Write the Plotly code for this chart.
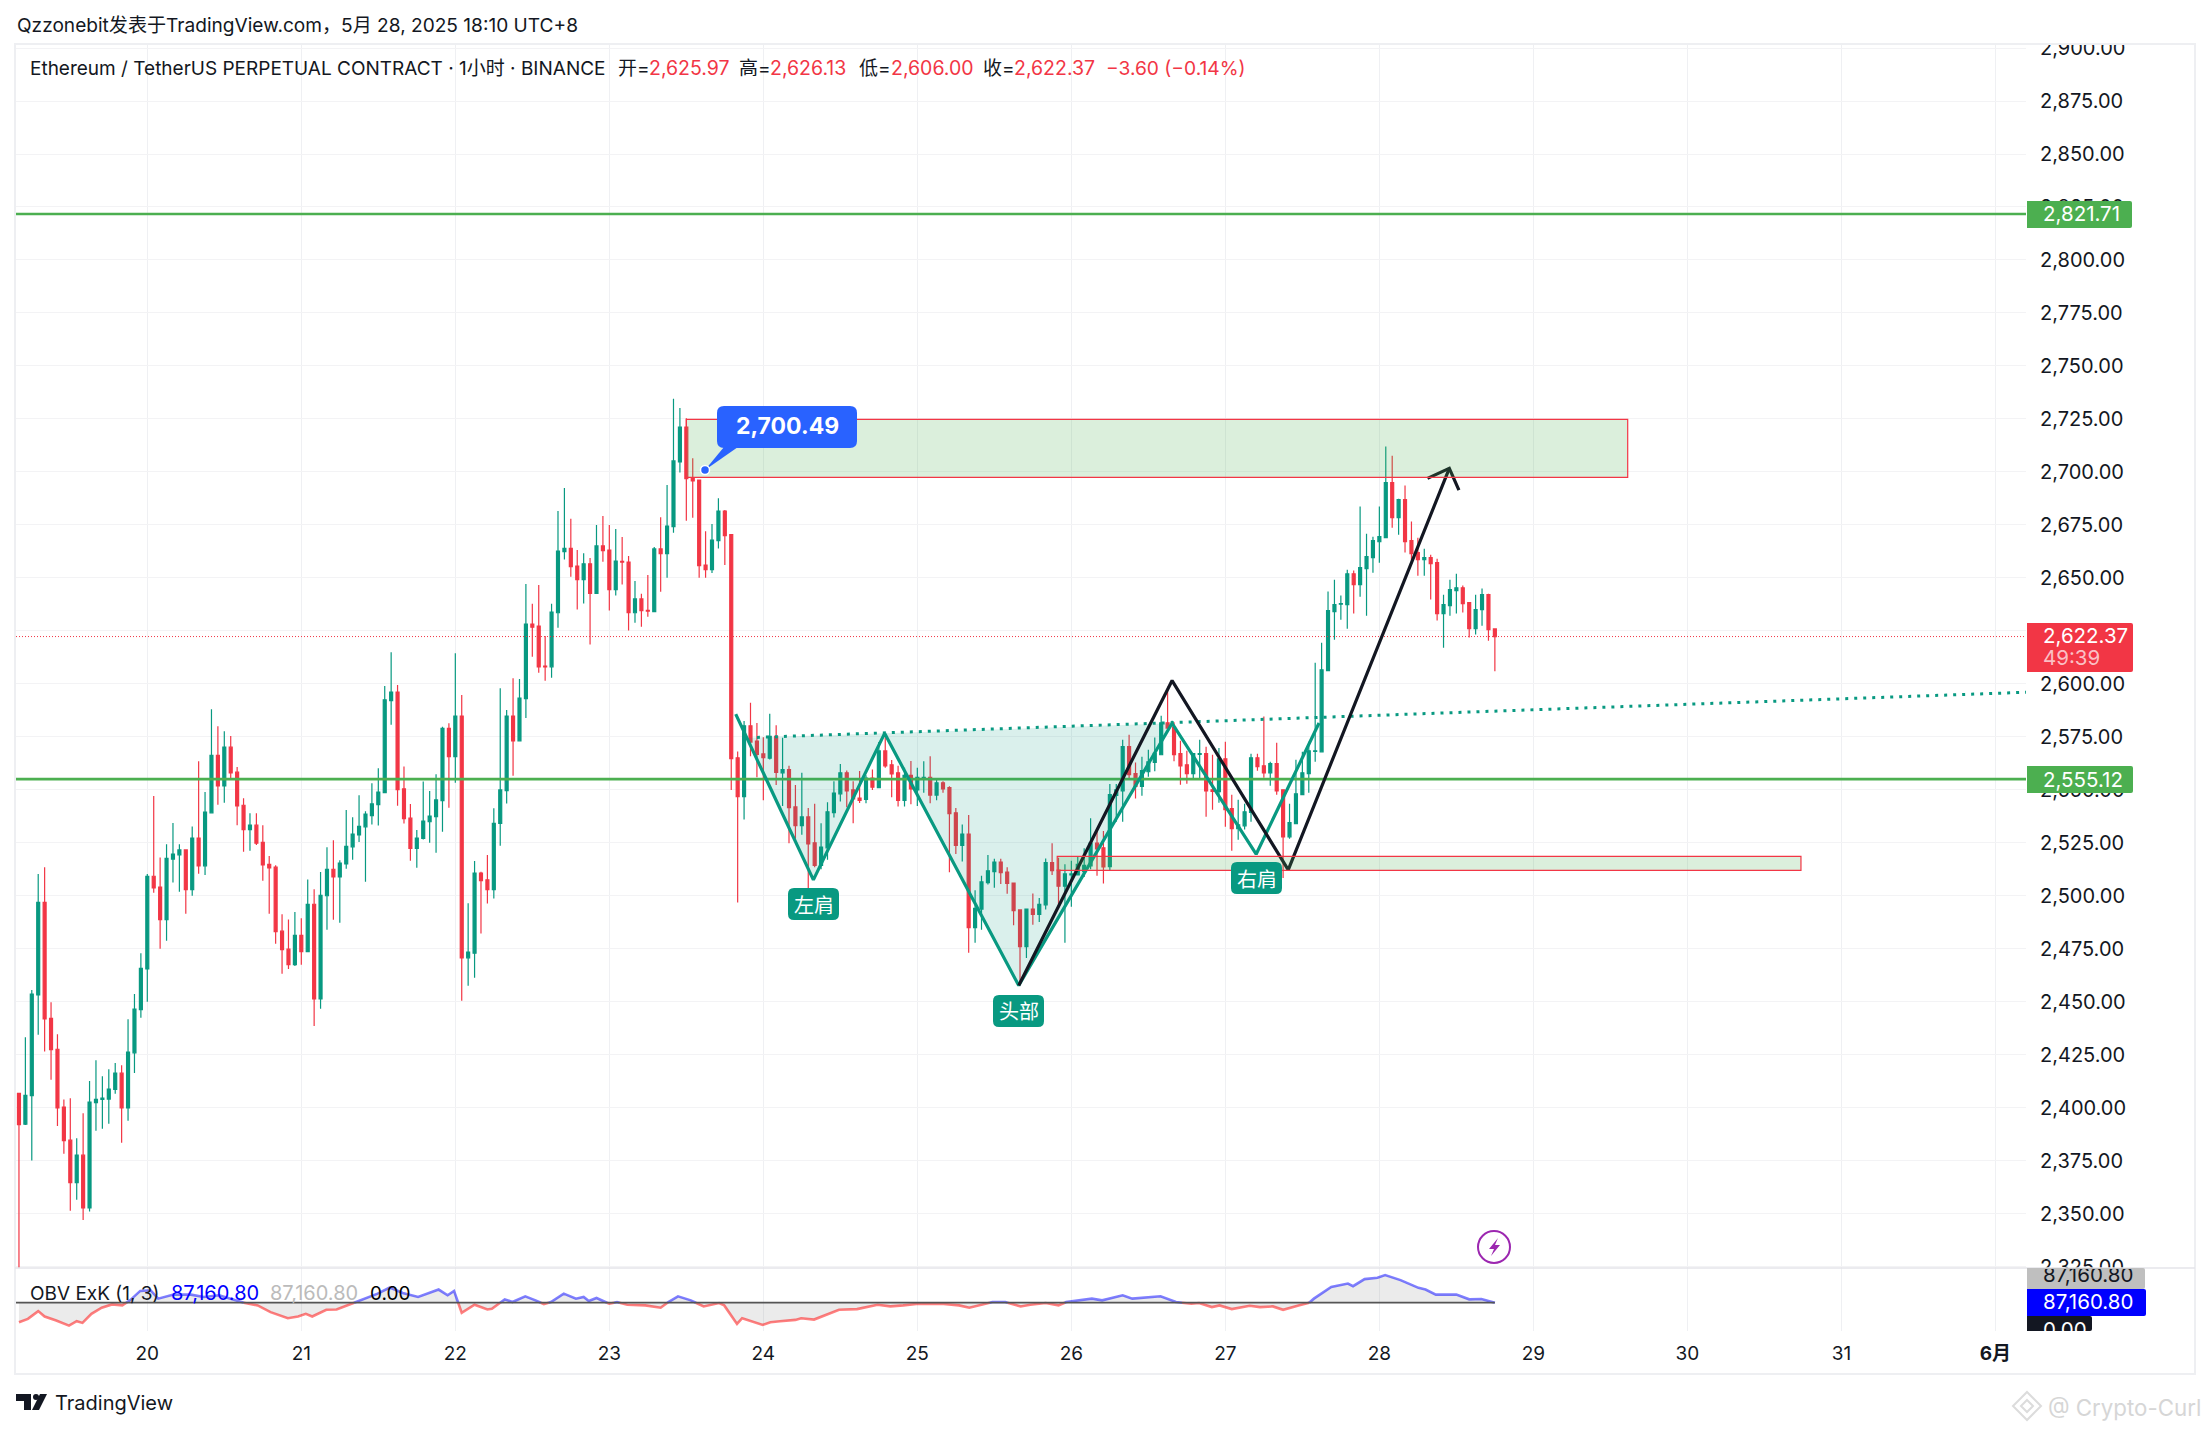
import plotly.graph_objects as go

bar_open = [
    2406.9, 2392.3, 2405.8, 2453.3, 2497.0, 2442.3, 2427.7, 2400.4, 2384.8, 2364.8,
    2377.7, 2352.8, 2402.5, 2404.0, 2404.2, 2408.7, 2416.4, 2400.0, 2426.0, 2446.4,
    2465.6, 2509.3, 2504.2, 2488.8, 2517.4, 2519.4, 2521.7, 2503.0, 2527.3, 2514.2,
    2539.2, 2566.3, 2551.9, 2570.2, 2558.4, 2542.8, 2531.3, 2533.4, 2525.3, 2514.9,
    2513.6, 2483.4, 2474.9, 2467.6, 2481.4, 2473.7, 2496.1, 2451.4, 2500.1, 2512.6,
    2509.0, 2515.1, 2523.2, 2528.8, 2532.6, 2537.9, 2543.1, 2548.7, 2592.1, 2596.2,
    2550.5, 2536.7, 2522.4, 2527.1, 2535.0, 2537.4, 2545.0, 2579.1, 2565.7, 2584.9,
    2470.8, 2473.0, 2510.8, 2507.6, 2503.0, 2534.2, 2549.7, 2584.9, 2573.2, 2593.1,
    2628.3, 2627.3, 2608.4, 2608.1, 2633.6, 2662.4, 2664.0, 2655.6, 2649.2, 2656.7,
    2642.7, 2665.1, 2663.2, 2644.5, 2657.8, 2657.5, 2633.6, 2640.1, 2634.7, 2634.1,
    2663.7, 2661.5, 2674.2, 2704.7, 2721.2, 2697.3, 2696.2, 2656.1, 2653.9, 2667.6,
    2681.6, 2670.5, 2565.2, 2546.9, 2580.3, 2573.1, 2567.0, 2565.0, 2575.3, 2558.1,
    2559.6, 2542.0, 2533.2, 2537.3, 2525.1, 2514.4, 2522.7, 2539.3, 2548.2, 2558.1,
    2550.0, 2546.2, 2545.5, 2555.6, 2551.1, 2568.4, 2561.9, 2558.1, 2545.1, 2556.9,
    2550.0, 2555.6, 2556.0, 2547.6, 2553.4, 2551.1, 2539.2, 2523.8, 2529.2, 2485.1,
    2493.8, 2506.3, 2511.5, 2516.0, 2511.3, 2506.1, 2493.4, 2476.1, 2493.8, 2491.3,
    2495.8, 2515.7, 2512.2, 2504.6, 2509.9, 2509.9, 2511.5, 2514.2, 2524.9, 2522.7,
    2513.8, 2547.4, 2549.6, 2570.4, 2557.7, 2551.7, 2558.6, 2563.0, 2566.6, 2581.7,
    2579.7, 2567.1, 2561.9, 2557.7, 2566.8, 2567.1, 2550.1, 2549.2, 2564.7, 2541.2,
    2531.7, 2533.1, 2539.4, 2565.2, 2561.4, 2558.1, 2562.4, 2550.1, 2527.9, 2534.1,
    2547.8, 2557.7, 2568.2, 2568.0, 2606.3, 2634.1, 2637.6, 2637.4, 2652.0, 2646.9,
    2654.4, 2659.6, 2667.1, 2669.0, 2695.0, 2678.5, 2687.0, 2667.6, 2662.0, 2658.7,
    2659.6, 2657.2, 2633.2, 2637.0, 2644.0, 2645.4, 2638.4, 2626.1, 2635.1, 2642.1, 2625.97,
]
bar_high = [
    2406.9, 2433.3, 2455.6, 2510.3, 2513.6, 2449.9, 2434.8, 2404.0, 2404.6, 2385.7,
    2397.5, 2412.7, 2422.5, 2415.0, 2418.3, 2421.2, 2420.2, 2441.8, 2453.7, 2473.0,
    2510.3, 2547.1, 2518.2, 2524.4, 2534.4, 2524.4, 2521.7, 2532.8, 2563.6, 2549.0,
    2588.1, 2580.0, 2577.7, 2575.4, 2560.8, 2546.1, 2539.0, 2539.0, 2533.4, 2518.8,
    2514.5, 2491.4, 2488.9, 2492.4, 2489.5, 2507.8, 2503.2, 2511.3, 2523.0, 2526.3,
    2516.9, 2540.5, 2537.1, 2547.5, 2540.0, 2553.2, 2560.3, 2599.0, 2615.0, 2599.5,
    2561.1, 2543.4, 2531.1, 2554.0, 2549.5, 2557.4, 2579.8, 2581.5, 2614.5, 2594.8,
    2496.6, 2516.5, 2511.4, 2519.3, 2541.4, 2598.0, 2587.7, 2602.7, 2602.4, 2647.2,
    2637.8, 2646.7, 2622.6, 2637.8, 2681.6, 2692.4, 2677.9, 2663.2, 2661.7, 2659.4,
    2675.0, 2679.2, 2675.0, 2673.1, 2669.3, 2660.4, 2648.6, 2642.5, 2651.4, 2664.6,
    2678.7, 2693.9, 2734.5, 2730.2, 2725.3, 2706.5, 2696.2, 2672.1, 2675.5, 2687.6,
    2682.1, 2670.8, 2568.1, 2582.5, 2591.2, 2581.6, 2574.9, 2585.9, 2580.5, 2574.6,
    2561.4, 2552.3, 2558.1, 2541.5, 2543.5, 2534.3, 2544.2, 2554.1, 2562.3, 2559.2,
    2554.1, 2559.0, 2556.9, 2559.6, 2572.6, 2574.9, 2564.1, 2561.4, 2560.5, 2563.7,
    2560.5, 2563.5, 2565.9, 2555.6, 2554.1, 2551.8, 2541.5, 2533.7, 2538.2, 2502.7,
    2509.5, 2519.3, 2517.5, 2517.5, 2513.5, 2506.1, 2493.4, 2493.8, 2501.2, 2499.0,
    2517.7, 2524.9, 2518.0, 2514.9, 2516.6, 2518.9, 2522.5, 2536.6, 2530.7, 2530.7,
    2552.8, 2552.8, 2573.7, 2576.1, 2563.0, 2565.7, 2569.0, 2574.8, 2585.0, 2598.7,
    2581.9, 2573.2, 2568.5, 2567.1, 2573.7, 2570.4, 2566.6, 2569.8, 2572.8, 2547.8,
    2545.4, 2543.5, 2567.1, 2567.1, 2584.6, 2563.3, 2572.3, 2550.1, 2543.5, 2564.3,
    2568.0, 2572.8, 2610.0, 2619.5, 2643.6, 2649.2, 2641.7, 2653.9, 2653.5, 2683.7,
    2670.9, 2669.5, 2683.7, 2712.0, 2707.7, 2687.4, 2693.6, 2676.6, 2669.0, 2663.8,
    2661.0, 2659.1, 2642.1, 2649.2, 2652.0, 2646.4, 2638.4, 2642.1, 2645.0, 2642.6, 2626.13,
]
bar_low = [
    2320.0, 2391.9, 2375.2, 2434.5, 2426.6, 2413.3, 2391.5, 2378.4, 2351.5, 2356.7,
    2347.2, 2351.1, 2389.2, 2390.2, 2392.5, 2406.7, 2383.6, 2394.0, 2416.5, 2442.5,
    2450.1, 2501.5, 2475.1, 2478.9, 2506.3, 2502.0, 2491.6, 2500.1, 2510.5, 2509.9,
    2539.2, 2543.0, 2544.0, 2555.6, 2533.4, 2520.9, 2521.3, 2524.0, 2507.2, 2491.6,
    2477.4, 2463.3, 2465.6, 2467.0, 2467.6, 2473.7, 2438.7, 2446.8, 2484.1, 2488.8,
    2487.4, 2512.8, 2517.1, 2525.5, 2506.7, 2533.7, 2533.2, 2548.7, 2580.8, 2542.6,
    2534.2, 2516.6, 2513.3, 2526.6, 2525.1, 2520.4, 2530.3, 2541.6, 2553.4, 2450.6,
    2457.7, 2461.4, 2482.3, 2496.4, 2498.8, 2523.7, 2543.6, 2556.7, 2573.2, 2584.0,
    2612.8, 2605.3, 2601.5, 2602.9, 2626.5, 2658.7, 2650.6, 2635.1, 2638.0, 2618.6,
    2642.7, 2657.7, 2634.6, 2641.7, 2646.9, 2625.2, 2628.9, 2627.0, 2631.7, 2634.1,
    2643.5, 2650.1, 2671.3, 2699.7, 2677.0, 2678.4, 2650.1, 2650.1, 2652.4, 2663.9,
    2656.1, 2550.0, 2496.9, 2536.1, 2565.9, 2556.0, 2545.1, 2564.4, 2552.3, 2542.4,
    2524.9, 2527.0, 2528.9, 2503.6, 2513.5, 2512.6, 2517.1, 2537.0, 2544.6, 2541.9,
    2534.3, 2543.8, 2543.7, 2550.0, 2551.1, 2560.5, 2546.6, 2542.2, 2542.2, 2543.3,
    2542.4, 2548.7, 2543.7, 2545.1, 2548.7, 2511.2, 2519.8, 2516.2, 2473.2, 2477.9,
    2484.1, 2505.4, 2503.9, 2505.7, 2501.0, 2486.2, 2459.3, 2470.7, 2486.4, 2487.7,
    2493.6, 2509.9, 2495.4, 2477.9, 2494.9, 2509.9, 2509.0, 2512.6, 2509.5, 2505.9,
    2511.9, 2535.0, 2535.0, 2555.1, 2546.0, 2547.3, 2556.2, 2558.8, 2566.6, 2579.2,
    2563.5, 2552.5, 2552.9, 2555.1, 2555.5, 2537.4, 2540.7, 2544.0, 2532.7, 2521.3,
    2526.5, 2531.3, 2535.0, 2559.1, 2555.8, 2552.0, 2547.8, 2508.5, 2527.0, 2534.1,
    2547.8, 2548.7, 2563.3, 2568.0, 2606.3, 2620.9, 2630.3, 2626.1, 2633.2, 2641.2,
    2632.2, 2652.5, 2657.2, 2669.0, 2673.7, 2670.4, 2662.0, 2658.2, 2651.1, 2651.1,
    2639.8, 2629.9, 2617.1, 2632.2, 2633.2, 2633.7, 2621.9, 2623.3, 2627.5, 2620.4, 2606.00,
]
bar_close = [
    2392.1, 2406.0, 2453.7, 2497.0, 2442.0, 2427.5, 2400.0, 2384.6, 2364.8, 2377.7,
    2352.8, 2402.7, 2404.0, 2404.6, 2408.9, 2416.4, 2400.0, 2426.4, 2446.6, 2465.8,
    2509.3, 2503.8, 2488.8, 2517.8, 2519.7, 2521.7, 2503.0, 2527.3, 2514.2, 2539.6,
    2566.3, 2551.9, 2570.2, 2558.1, 2542.5, 2531.3, 2533.4, 2524.9, 2514.7, 2513.2,
    2483.2, 2474.7, 2467.6, 2481.4, 2473.7, 2496.1, 2451.4, 2500.3, 2512.6, 2509.0,
    2515.5, 2523.4, 2529.2, 2532.8, 2538.6, 2543.4, 2549.0, 2592.5, 2596.2, 2550.2,
    2536.5, 2522.4, 2527.3, 2535.3, 2537.7, 2545.3, 2579.1, 2565.7, 2584.9, 2470.8,
    2473.5, 2510.8, 2507.2, 2503.0, 2534.3, 2550.0, 2584.9, 2573.2, 2593.3, 2628.3,
    2626.8, 2608.1, 2608.0, 2633.9, 2662.7, 2664.0, 2655.3, 2649.2, 2656.7, 2642.7,
    2665.1, 2662.9, 2644.5, 2658.0, 2657.5, 2633.6, 2640.1, 2634.6, 2634.4, 2663.7,
    2661.5, 2674.5, 2705.2, 2721.2, 2696.9, 2695.8, 2655.8, 2653.9, 2667.9, 2681.6,
    2670.0, 2564.8, 2546.9, 2580.3, 2572.6, 2566.8, 2565.2, 2575.3, 2558.3, 2559.6,
    2541.7, 2533.2, 2537.3, 2524.5, 2514.4, 2523.1, 2539.7, 2548.5, 2558.1, 2549.6,
    2545.8, 2545.1, 2555.6, 2551.3, 2568.4, 2561.4, 2557.6, 2545.1, 2556.9, 2550.5,
    2556.0, 2556.0, 2547.6, 2553.4, 2550.5, 2538.8, 2523.8, 2529.2, 2485.1, 2494.2,
    2506.6, 2511.9, 2516.0, 2511.0, 2505.9, 2493.1, 2476.1, 2493.8, 2491.3, 2496.0,
    2515.7, 2511.9, 2504.6, 2510.4, 2510.4, 2514.9, 2514.4, 2524.9, 2522.2, 2513.7,
    2547.8, 2550.1, 2570.4, 2557.2, 2551.7, 2559.1, 2563.3, 2567.3, 2581.7, 2579.2,
    2566.6, 2561.4, 2557.7, 2567.1, 2567.1, 2549.6, 2549.3, 2564.7, 2540.7, 2531.7,
    2533.6, 2539.7, 2565.2, 2561.0, 2558.1, 2562.4, 2549.6, 2527.9, 2534.6, 2548.2,
    2558.1, 2568.5, 2568.5, 2606.7, 2634.6, 2637.4, 2637.9, 2652.0, 2646.9, 2654.9,
    2660.1, 2667.6, 2669.5, 2695.0, 2678.5, 2687.0, 2667.1, 2661.5, 2658.7, 2659.6,
    2656.8, 2633.2, 2637.4, 2644.5, 2645.4, 2637.9, 2626.1, 2635.1, 2642.1, 2625.6, 2622.37,
]

# OBV ExK oscillator, scale of the lower pane is not printed so units are rough
obv_bar = [
    0.0, 1.4, 3.0, 4.0, 5.8, 7.8, 9.0, 9.9, 11.3, 12.9, 14.5, 16.1, 17.3, 18.9, 20.5, 21.7,
    24.1, 26.8, 28.8, 31.2, 34.4, 36.0, 37.2, 39.2, 41.9, 43.5, 44.7, 45.7, 47.9, 49.5,
    51.1, 53.5, 55.9, 57.8, 59.8, 62.2, 65.4, 66.8, 67.8, 69.0, 71.0, 73.0, 73.7, 75.7,
    76.9, 78.9, 80.5, 81.8, 82.9, 84.9, 86.8, 88.0, 88.8, 90.0, 92.0, 93.2, 94.8, 97.6,
    100.0, 101.2, 102.7, 104.7, 106.7, 109.1, 109.9, 111.9, 112.7, 115.9, 117.1, 118.6,
    121.0, 121.9, 123.9, 127.8, 130.6, 133.8, 135.8, 137.8, 140.2, 144.1, 146.5, 148.1,
    151.7, 153.7, 156.1, 157.6, 160.0, 162.0, 163.2, 167.2, 168.8, 172.0, 173.5, 177.9,
    180.3, 182.7, 183.9, 185.9, 187.1, 189.0, 191.8, 193.4, 195.4, 197.0, 199.4, 201.0,
    201.8, 204.5, 207.1, 207.9, 209.7, 211.7, 212.9, 215.3, 218.1, 219.2, 220.8, 224.0,
    226.0, 227.9, 230.0,
]
obv_value = [
    -58, -48, -25, -41, -53, -68, -55, -60, -33, -15, -5, -8, 7, 35, 37, 12,
    24, 24, 17, 22, 2, -3, -8, -28, -46, -41, -33, -41, -21, -20,
    -8, 9, 27, 45, 29, 17, 39, 22, 35, -30, -6, -20, -18, 10,
    2, 19, 7, -4, 2, 27, 12, 17, 5, 14, -3, 2, -6, -8,
    -15, 2, 19, 7, -11, -1, -8, -63, -46, -66, -58, -55,
    -51, -46, -50, -21, -19, -6, -11, -8, -3, -4, -8, -15,
    2, 2, -11, -6, -1, -8, 2, 12, 7, 22, 12, 19,
    2, -3, -1, -13, -8, -19, -9, -13, -11, -21, -8, -1,
    12, 47, 57, 49, 70, 74, 82, 67, 44, 39, 24, 24,
    10, 11, 0,
]

day_ticks = [20, 44, 68, 92, 116, 140, 164, 188, 212, 236, 260, 284, 308]
day_labels = ["20", "21", "22", "23", "24", "25", "26", "27", "28", "29", "30", "31", "<b>6月</b>"]
price_ticks = [2325 + 25 * i for i in range(24)]

upper_level = 2821.71
lower_level = 2555.12
last_close = 2622.37

# drawings on the chart, bar number and price
shoulder_bars = [111.7, 123.8, 134.9, 155.8, 179.7, 192.8, 202.6]
shoulder_prices = [2585.8, 2507.6, 2576.7, 2457.8, 2581.5, 2519.7, 2581.6]
neck_bars = [115.0, 312.8]
neck_prices = [2574.8, 2596.1]
left_fill_bars = [113.4, 123.8, 134.9]
left_fill_prices = [2574.6, 2507.6, 2576.7]
head_fill_bars = [134.9, 155.8, 179.7]
head_fill_prices = [2576.7, 2457.8, 2581.5]
path_bars = [155.8, 179.7, 197.8, 222.9]
path_prices = [2457.8, 2601.6, 2512.3, 2701.7]
arrow_bars = [219.5, 222.9, 224.4]
arrow_prices = [2697.0, 2701.7, 2691.4]

GREEN = "#089981"
RED = "#f23645"
LEVEL = "#4caf50"
INK = "#131722"
FONT = "Inter, Noto Sans CJK SC, sans-serif"
CJK = "Noto Sans CJK SC, Inter, sans-serif"

LEFT, RIGHT, TOP, BOTTOM, SPLIT = 16, 2026, 43, 1331, 1268


def px(x):
    return (x - LEFT) / (RIGHT - LEFT)


def py(y):
    return (BOTTOM - y) / (BOTTOM - TOP)


def round_box(x0, y0, x1, y1, r=3, left=True):
    # rounded box as paper path, square on the left when left=False
    rl = r if left else 0
    parts = [
        f"M {px(x0 + rl)} {py(y0)}", f"L {px(x1 - r)} {py(y0)}",
        f"Q {px(x1)} {py(y0)} {px(x1)} {py(y0 + r)}", f"L {px(x1)} {py(y1 - r)}",
        f"Q {px(x1)} {py(y1)} {px(x1 - r)} {py(y1)}", f"L {px(x0 + rl)} {py(y1)}",
        f"Q {px(x0)} {py(y1)} {px(x0)} {py(y1 - rl)}", f"L {px(x0)} {py(y0 + rl)}",
        f"Q {px(x0)} {py(y0)} {px(x0 + rl)} {py(y0)} Z",
    ]
    return " ".join(parts)


def poly(points):
    return "M " + " L ".join(f"{px(a)} {py(b)}" for a, b in points) + " Z"


def label(x, y, text, color=INK, size=19, anchor="left", family=FONT, **kw):
    base = dict(xref="paper", yref="paper", x=px(x), y=py(y), text=text, showarrow=False,
                xanchor=anchor, yanchor="middle", font=dict(family=family, size=size, color=color),
                borderpad=0)
    base.update(kw)
    return base


def split_sign(bars, values):
    # add the zero crossings so the line can change colour exactly on the zero line
    pos_x, pos_y, neg_x, neg_y = [], [], [], []
    for i, (b, v) in enumerate(zip(bars, values)):
        if i > 0 and values[i - 1] * v < 0:
            b0, v0 = bars[i - 1], values[i - 1]
            cross = b0 + (b - b0) * v0 / (v0 - v)
            pos_x.append(cross), pos_y.append(0), neg_x.append(cross), neg_y.append(0)
            if v > 0:
                neg_x.append(None), neg_y.append(None)
            else:
                pos_x.append(None), pos_y.append(None)
        if v >= 0:
            pos_x.append(b), pos_y.append(v)
        if v <= 0:
            neg_x.append(b), neg_y.append(v)
    return pos_x, pos_y, neg_x, neg_y


bars = list(range(len(bar_close)))
x_left = 20 + (LEFT - 147.3) / 6.417
x_right = 20 + (RIGHT - 147.3) / 6.417

fig = go.Figure()

fig.add_trace(go.Candlestick(
    x=bars, open=bar_open, high=bar_high, low=bar_low, close=bar_close,
    increasing=dict(line=dict(color=GREEN, width=1.2), fillcolor=GREEN),
    decreasing=dict(line=dict(color=RED, width=1.2), fillcolor=RED),
    whiskerwidth=0, showlegend=False, hoverinfo="skip",
))

# last price and the two levels
fig.add_trace(go.Scatter(x=[x_left, x_right], y=[last_close, last_close], mode="lines",
                         line=dict(color=RED, width=1, dash="1px,2px"), hoverinfo="skip"))
for level in [upper_level, lower_level]:
    fig.add_trace(go.Scatter(x=[x_left, x_right], y=[level, level], mode="lines",
                             line=dict(color=LEVEL, width=2.6), hoverinfo="skip"))

# head and shoulders
for fill_x, fill_y in [(left_fill_bars, left_fill_prices), (head_fill_bars, head_fill_prices)]:
    fig.add_trace(go.Scatter(x=fill_x, y=fill_y, mode="lines", fill="toself",
                             fillcolor="rgba(8,153,129,0.15)", line=dict(width=0), hoverinfo="skip"))
fig.add_trace(go.Scatter(x=neck_bars, y=neck_prices, mode="lines",
                         line=dict(color=GREEN, width=3, dash="3px,6px"), hoverinfo="skip"))
fig.add_trace(go.Scatter(x=shoulder_bars, y=shoulder_prices, mode="lines",
                         line=dict(color=GREEN, width=3.2), hoverinfo="skip"))

# hand drawn path with arrow
fig.add_trace(go.Scatter(x=path_bars, y=path_prices, mode="lines",
                         line=dict(color=INK, width=3.2), hoverinfo="skip"))
fig.add_trace(go.Scatter(x=arrow_bars, y=arrow_prices, mode="lines",
                         line=dict(color=INK, width=3.2), hoverinfo="skip"))

# OBV pane
pos_x, pos_y, neg_x, neg_y = split_sign(obv_bar, obv_value)
fig.add_trace(go.Scatter(x=obv_bar, y=obv_value, yaxis="y2", mode="lines", fill="tozeroy",
                         fillcolor="rgba(120,120,120,0.15)", line=dict(width=0), hoverinfo="skip"))
fig.add_trace(go.Scatter(x=pos_x, y=pos_y, yaxis="y2", mode="lines",
                         line=dict(color="rgba(0,0,255,0.5)", width=2.6), hoverinfo="skip"))
fig.add_trace(go.Scatter(x=neg_x, y=neg_y, yaxis="y2", mode="lines",
                         line=dict(color="rgba(255,0,0,0.5)", width=2.6), hoverinfo="skip"))
fig.add_trace(go.Scatter(x=[x_left, 230], y=[0, 0], yaxis="y2", mode="lines",
                         line=dict(color="#555555", width=1.8), hoverinfo="skip"))

shapes = [
    # zones
    dict(type="rect", xref="x", yref="y", x0=104, x1=250.7, y0=2697.5, y1=2724.8,
         fillcolor="rgba(76,175,80,0.2)", line=dict(color=RED, width=1.2)),
    dict(type="rect", xref="x", yref="y", x0=161.8, x1=277.7, y0=2512.1, y1=2518.7,
         fillcolor="rgba(76,175,80,0.2)", line=dict(color=RED, width=1.2)),
    # white cap over the clipped top tick
    dict(type="rect", xref="paper", yref="paper", x0=px(0), x1=px(2211), y0=py(0), y1=py(TOP),
         fillcolor="white", line=dict(width=0)),
    # frame
    dict(type="rect", xref="paper", yref="paper", x0=px(15), x1=px(2195), y0=py(44), y1=py(1374),
         fillcolor="rgba(0,0,0,0)", line=dict(color="#eeeff2", width=2)),
    dict(type="line", xref="paper", yref="paper", x0=px(15), x1=px(2195), y0=py(1268), y1=py(1268),
         line=dict(color="#e4e5ea", width=1.5)),
]

# price badges
for x0, y0, x1, y1, colour in [
    (2027, 201, 2132, 228, LEVEL),
    (2027, 766, 2133, 793, LEVEL),
    (2027, 623, 2133, 672, RED),
    (2027, 1268, 2145, 1289, "#bfbfbf"),
    (2027, 1289, 2146, 1316, "#0000ff"),
    (2027, 1316, 2092, 1331, INK),
]:
    shapes.append(dict(type="path", xref="paper", yref="paper", path=round_box(x0, y0, x1, y1, 2, left=False),
                       fillcolor=colour, line=dict(width=0)))

# pattern tags and the price callout
for x0, y0, x1, y1 in [(788, 888, 839, 920), (993, 995, 1044, 1027), (1231, 862, 1282, 894)]:
    shapes.append(dict(type="path", xref="paper", yref="paper", path=round_box(x0, y0, x1, y1, 6),
                       fillcolor=GREEN, line=dict(width=0)))
shapes.append(dict(type="path", xref="paper", yref="paper", path=round_box(717, 406, 857, 448, 7),
                   fillcolor="#2962ff", line=dict(width=0)))
shapes.append(dict(type="path", xref="paper", yref="paper",
                   path=poly([(724, 447), (738, 447), (705, 470)]), fillcolor="#2962ff", line=dict(width=0)))
shapes.append(dict(type="circle", xref="paper", yref="paper", x0=px(700.5), x1=px(709.5), y0=py(465.5), y1=py(474.5),
                   fillcolor="#2962ff", line=dict(color="white", width=1.5)))

# flash icon
shapes.append(dict(type="circle", xref="paper", yref="paper", x0=px(1478), x1=px(1510), y0=py(1231), y1=py(1263),
                   fillcolor="rgba(0,0,0,0)", line=dict(color="#9c27b0", width=2)))
shapes.append(dict(type="path", xref="paper", yref="paper",
                   path=poly([(1498, 1238), (1489, 1249), (1494, 1249), (1491, 1256), (1500, 1245), (1495, 1245)]),
                   fillcolor="#9c27b0", line=dict(width=0)))

# TradingView logo
shapes.append(dict(type="path", xref="paper", yref="paper",
                   path=poly([(16, 1394), (31, 1394), (31, 1410), (24, 1410), (24, 1401), (16, 1401)]),
                   fillcolor=INK, line=dict(width=0)))
shapes.append(dict(type="circle", xref="paper", yref="paper", x0=px(33), x1=px(39), y0=py(1394), y1=py(1400),
                   fillcolor=INK, line=dict(width=0)))
shapes.append(dict(type="path", xref="paper", yref="paper",
                   path=poly([(40, 1394), (47, 1394), (39, 1410), (32, 1410)]), fillcolor=INK, line=dict(width=0)))

# watermark diamond
shapes.append(dict(type="path", xref="paper", yref="paper",
                   path=poly([(2027, 1392), (2041, 1406), (2027, 1420), (2013, 1406)]),
                   fillcolor="rgba(0,0,0,0)", line=dict(color="#dcdcdc", width=2)))
shapes.append(dict(type="path", xref="paper", yref="paper",
                   path=poly([(2027, 1400), (2033, 1406), (2027, 1412), (2021, 1406)]),
                   fillcolor="rgba(0,0,0,0)", line=dict(color="#dcdcdc", width=2)))

annotations = [
    label(16, 25, "Qzzonebit发表于TradingView.com，5月 28, 2025 18:10 UTC+8", size=19.1),
    label(29, 68, "Ethereum / TetherUS PERPETUAL CONTRACT · 1小时 · BINANCE"),
    label(617, 68, "开="), label(648, 68, "2,625.97", RED, size=19.5),
    label(738, 68, "高="), label(769, 68, "2,626.13", RED, size=19.5),
    label(858, 68, "低="), label(890, 68, "2,606.00", RED, size=19.5),
    label(982, 68, "收="), label(1013, 68, "2,622.37", RED, size=19.5),
    label(1105, 68, "−3.60 (−0.14%)", RED, size=19.2),
    label(29, 1293, "OBV ExK (1, 3)"),
    label(170, 1293, "87,160.80", "#0000ff", size=20),
    label(269, 1293, "87,160.80", "#bbbbbb", size=20),
    label(369, 1293, "0.00", "#000000", size=19),
    label(2042, 214, "2,821.71", "white", size=20.5),
    label(2042, 779, "2,555.12", "white", size=20.5),
    label(2042, 635, "2,622.37", "white", size=20.5),
    label(2042, 657, "49:39", "rgba(255,255,255,0.7)", size=20.5),
    # these two are cut by the edge of their pane
    label(2042, 1268, "87,160.80", INK, size=20.5, yanchor="top", height=18, valign="bottom"),
    label(2042, 1301, "87,160.80", "white", size=20.5),
    label(2042, 1316, "0.00", "white", size=20.5, yanchor="top", height=15, valign="top"),
    label(813.5, 904, "左肩", "white", size=20, anchor="center", family=CJK),
    label(1018.5, 1010, "头部", "white", size=20, anchor="center", family=CJK),
    label(1256.5, 878, "右肩", "white", size=20, anchor="center", family=CJK),
    label(787, 426, "<b>2,700.49</b>", "white", size=23, anchor="center"),
    label(54, 1403, "TradingView", size=20),
    label(2047, 1407, "@ Crypto-Curl", "#d6d6d6", size=22.3),
]

fig.update_layout(
    width=2211, height=1431, autosize=False,
    margin=dict(l=LEFT, r=2211 - RIGHT, t=TOP, b=1431 - BOTTOM),
    paper_bgcolor="white", plot_bgcolor="white",
    showlegend=False, boxgap=0.34, hovermode=False,
    xaxis=dict(range=[x_left, x_right], anchor="y2", rangeslider=dict(visible=False),
               tickmode="array", tickvals=day_ticks, ticktext=day_labels, showgrid=True,
               gridcolor="#eff0f3", gridwidth=1.3, zeroline=False, showline=False,
               ticks="outside", ticklen=5, tickcolor="rgba(0,0,0,0)",
               tickfont=dict(family=FONT, size=19, color=INK)),
    yaxis=dict(range=[2324.5, 2902.36], domain=[(BOTTOM - SPLIT) / (BOTTOM - TOP), 1], side="right", anchor="x",
               tickmode="array", tickvals=price_ticks, tickformat=",.2f", showgrid=True,
               gridcolor="#f3f3f5", gridwidth=1.3, zeroline=False, showline=False,
               ticks="outside", ticklen=9, tickcolor="rgba(0,0,0,0)",
               tickfont=dict(family=FONT, size=20, color=INK)),
    yaxis2=dict(range=[-84, 103], domain=[0, (BOTTOM - SPLIT) / (BOTTOM - TOP)], side="right", anchor="x",
                showticklabels=False, showgrid=False, zeroline=False, showline=False),
    shapes=shapes, annotations=annotations,
)

# drop the browser's default 8px body margin so the page lines up with the window
fig.write_html("out.html", config={"displayModeBar": False}, post_script="document.body.style.margin='0';")
